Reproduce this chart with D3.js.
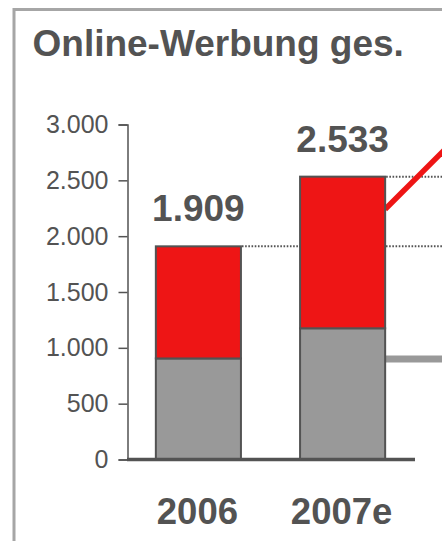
<!DOCTYPE html>
<html>
<head>
<meta charset="utf-8">
<script src="https://cdn.jsdelivr.net/npm/d3@7"></script>
<style>
  html, body { margin: 0; padding: 0; background: #fff; }
  svg { display: block; font-family: "Liberation Sans", Arial, sans-serif; }
</style>
</head>
<body>
<div id="chart"></div>
<script>
// Online advertising volume (Mio. EUR), stacked: base (grey) + growth share (red)
const title = "Online-Werbung ges.";
const categories = ["2006", "2007e"];
const baseValues = [905, 1175];
const topValues = [1004, 1358];
const totals = [1909, 2533];
const yTicks = [0, 500, 1000, 1500, 2000, 2500, 3000];

// Connector lines running out to the right-hand panel (value levels)
const redConnector = { from: 2241, to: 2769 };
const greyConnector = 900;

const W = 442, H = 541;
const textColor = "#535353";
const red = "#ee1515";
const grey = "#999999";

const de = d3.formatLocale({ decimal: ",", thousands: ".", grouping: [3], currency: ["", " €"] });
const fmt = de.format(",d");

const svg = d3.select("#chart").append("svg")
  .attr("width", W).attr("height", H);

svg.append("rect").attr("width", W).attr("height", H).attr("fill", "#fff");

// Panel frame (continues beyond the visible area)
svg.append("rect")
  .attr("x", 14).attr("y", 9.5)
  .attr("width", W + 20).attr("height", H + 20)
  .attr("fill", "none").attr("stroke", "#a6a6a6").attr("stroke-width", 3);

svg.append("text")
  .attr("x", 32.5).attr("y", 55.5)
  .attr("font-size", 37).attr("font-weight", "bold")
  .attr("fill", textColor)
  .text(title);

const y = d3.scaleLinear().domain([0, 3000]).range([459.5, 124.5]);
const x = d3.scaleBand().domain(categories).range([127, 414])
  .paddingInner(0.41).paddingOuter(0.2);

// Y axis
const yAxis = svg.append("g")
  .attr("transform", "translate(127.5,0)")
  .call(d3.axisLeft(y).tickValues(yTicks).tickFormat(fmt).tickSize(9).tickPadding(10));
yAxis.select(".domain").attr("stroke", textColor).attr("stroke-width", 1.5);
yAxis.selectAll(".tick line").attr("stroke", textColor).attr("stroke-width", 1.5);
yAxis.selectAll(".tick text")
  .attr("fill", textColor).attr("font-size", 25)
  .attr("font-family", "\"Liberation Sans\", Arial, sans-serif");

// Dotted reference lines at the bar totals
categories.forEach((c, i) => {
  svg.append("line")
    .attr("x1", x(c) + x.bandwidth() + 1).attr("x2", W)
    .attr("y1", y(totals[i])).attr("y2", y(totals[i]))
    .attr("stroke", textColor).attr("stroke-width", 2)
    .attr("stroke-dasharray", "1.6 1.6");
});

// Connectors from the 2007e bar
const lastX = x(categories[1]) + x.bandwidth();
svg.append("line")
  .attr("x1", lastX).attr("y1", y(redConnector.from))
  .attr("x2", W + 2).attr("y2", y(redConnector.to))
  .attr("stroke", red).attr("stroke-width", 5.5);
svg.append("line")
  .attr("x1", lastX).attr("y1", y(greyConnector))
  .attr("x2", W).attr("y2", y(greyConnector))
  .attr("stroke", grey).attr("stroke-width", 7);

// Stacked bars
const bars = svg.append("g");
categories.forEach((c, i) => {
  bars.append("rect")
    .attr("x", x(c)).attr("width", x.bandwidth())
    .attr("y", y(baseValues[i])).attr("height", y(0) - y(baseValues[i]))
    .attr("fill", grey).attr("stroke", textColor).attr("stroke-width", 2);
  bars.append("rect")
    .attr("x", x(c)).attr("width", x.bandwidth())
    .attr("y", y(baseValues[i] + topValues[i]))
    .attr("height", y(baseValues[i]) - y(baseValues[i] + topValues[i]))
    .attr("fill", red).attr("stroke", textColor).attr("stroke-width", 2);
  svg.append("text")
    .attr("x", x(c) + x.bandwidth() / 2).attr("y", y(totals[i]) - 25)
    .attr("text-anchor", "middle")
    .attr("font-size", 37).attr("font-weight", "bold").attr("fill", textColor)
    .text(fmt(totals[i]));
  svg.append("text")
    .attr("x", x(c) + x.bandwidth() / 2 - 1).attr("y", 524)
    .attr("text-anchor", "middle")
    .attr("font-size", 36.5).attr("font-weight", "bold").attr("fill", textColor)
    .text(c);
});

// Baseline
svg.append("line")
  .attr("x1", 127).attr("x2", 415)
  .attr("y1", y(0)).attr("y2", y(0))
  .attr("stroke", textColor).attr("stroke-width", 3.5);
</script>
</body>
</html>
